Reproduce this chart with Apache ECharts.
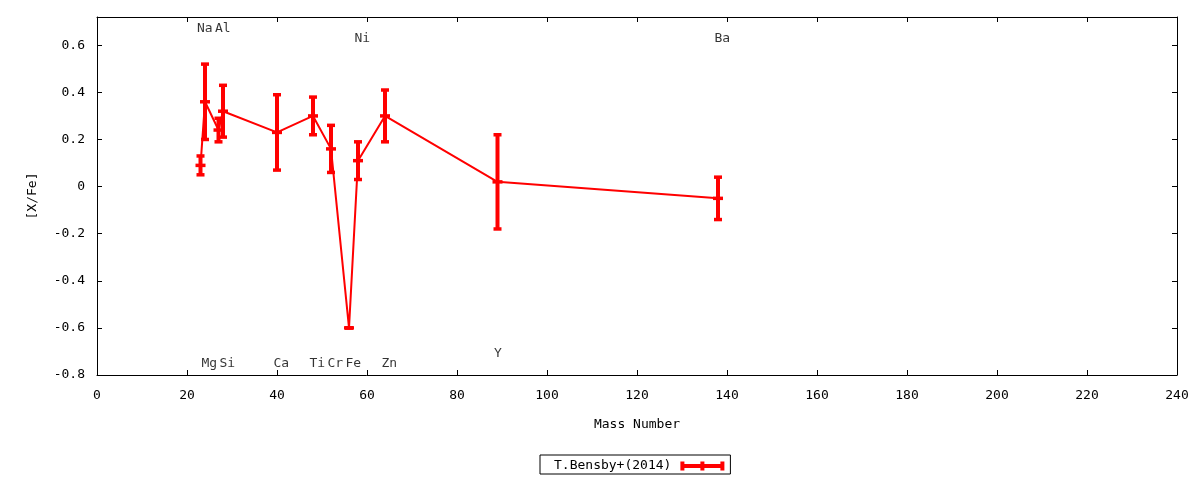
<!DOCTYPE html>
<html><head><meta charset="utf-8">
<script src="https://cdn.jsdelivr.net/npm/echarts@6/dist/echarts.min.js"></script>
<style>html,body{margin:0;padding:0;background:#fff}#c{width:1200px;height:480px}</style>
</head><body><div id="c"></div>
<script>
const elements = ['Na','Mg','Al','Si','Ca','Ti','Cr','Fe','Ni','Zn','Y','Ba'];
const massNumber = [23,24,27,28,40,48,52,56,58,64,89,138];
const xfe = [0.09,0.36,0.24,0.32,0.23,0.30,0.16,-0.60,0.11,0.30,0.02,-0.05];
const xfeErr = [0.04,0.16,0.05,0.11,0.16,0.08,0.10,0.00,0.08,0.11,0.20,0.09];
const labelY = [0.67,-0.75,0.67,-0.75,-0.75,-0.75,-0.75,-0.75,0.63,-0.75,-0.71,0.63];
const seriesName = 'T.Bensby+(2014)';

const FONT = 'DejaVu Sans Mono';
const chart = echarts.init(document.getElementById('c'), null, {renderer:'canvas'});
const fmt = v => String(Math.round(v*10)/10);
const axisCommon = () => ({
  axisLine:{show:true,onZero:false,lineStyle:{color:'#000',width:1}},
  axisTick:{show:true,inside:true,length:5,lineStyle:{color:'#000',width:1}},
  splitLine:{show:false}
});
chart.setOption({
  animation:false,
  backgroundColor:'#fff',
  textStyle:{fontFamily:FONT,fontSize:13,color:'#000'},
  grid:{left:97,right:23,top:17,bottom:105,containLabel:false},
  xAxis:[
    Object.assign({type:'value',position:'bottom',min:0,max:240,interval:20,
      name:'Mass Number',nameLocation:'middle',nameGap:43,
      nameTextStyle:{fontFamily:FONT,fontSize:13,color:'#000'},
      axisLabel:{fontFamily:FONT,fontSize:13,color:'#000',margin:14}},axisCommon()),
    Object.assign({type:'value',position:'top',min:0,max:240,interval:20,
      axisLabel:{show:false}},axisCommon())
  ],
  yAxis:[
    Object.assign({type:'value',position:'left',min:-0.8,max:0.72,interval:0.2,
      name:'[X/Fe]',nameLocation:'middle',nameGap:58,nameRotate:90,
      nameTextStyle:{fontFamily:FONT,fontSize:13,color:'#000'},
      axisLabel:{fontFamily:FONT,fontSize:13,color:'#000',margin:12,showMaxLabel:false,formatter:fmt}},axisCommon()),
    Object.assign({type:'value',position:'right',min:-0.8,max:0.72,interval:0.2,
      axisLabel:{show:false}},axisCommon())
  ],
  legend:{
    show:true,left:540,top:455,orient:'horizontal',align:'right',
    backgroundColor:'#fff',borderColor:'#000',borderWidth:1,borderRadius:0,
    padding:[4,6,1,14],itemWidth:44,itemHeight:9,
    textStyle:{fontFamily:FONT,fontSize:13,color:'#000',lineHeight:14,padding:[0,4,0,0]},
    data:[{name:seriesName,icon:'path://M0,2.5h44v4h-44z M0,0h4v9h-4z M20,0h4v9h-4z M40,0h4v9h-4z',itemStyle:{color:'#ff0000'}}]
  },
  series:[
    {
      name:seriesName,type:'line',
      data:massNumber.map((m,i)=>[m,xfe[i]]),
      symbol:'none',
      lineStyle:{color:'#ff0000',width:2},
      itemStyle:{color:'#ff0000'},
      z:2
    },
    {
      name:'errbars',type:'custom',
      data:massNumber.map((m,i)=>[m,xfe[i]-xfeErr[i],xfe[i]+xfeErr[i],xfe[i]]),
      renderItem:function(params,api){
        const lo = api.coord([api.value(0),api.value(1)]);
        const hi = api.coord([api.value(0),api.value(2)]);
        const c = api.coord([api.value(0),api.value(3)]);
        const st = {stroke:'#ff0000',lineWidth:3.5,fill:'none'};
        return {type:'group',children:[
          {type:'line',shape:{x1:lo[0],y1:lo[1],x2:hi[0],y2:hi[1]},style:Object.assign({},st,{lineWidth:4})},
          {type:'line',shape:{x1:lo[0]-4,y1:lo[1],x2:lo[0]+4,y2:lo[1]},style:st},
          {type:'line',shape:{x1:hi[0]-4,y1:hi[1],x2:hi[0]+4,y2:hi[1]},style:st},
          {type:'line',shape:{x1:c[0]-5,y1:c[1],x2:c[0]+5,y2:c[1]},style:st}
        ]};
      },
      z:3
    },
    {
      name:'labels',type:'scatter',
      data:massNumber.map((m,i)=>({value:[m,labelY[i]],name:elements[i]})),
      symbol:'circle',symbolSize:1,
      itemStyle:{color:'rgba(0,0,0,0)'},
      label:{show:true,position:'right',distance:-4,
        formatter:p=>p.name,fontFamily:FONT,fontSize:13,color:'#000'},
      emphasis:{disabled:true},
      z:4
    }
  ]
});
</script></body></html>
